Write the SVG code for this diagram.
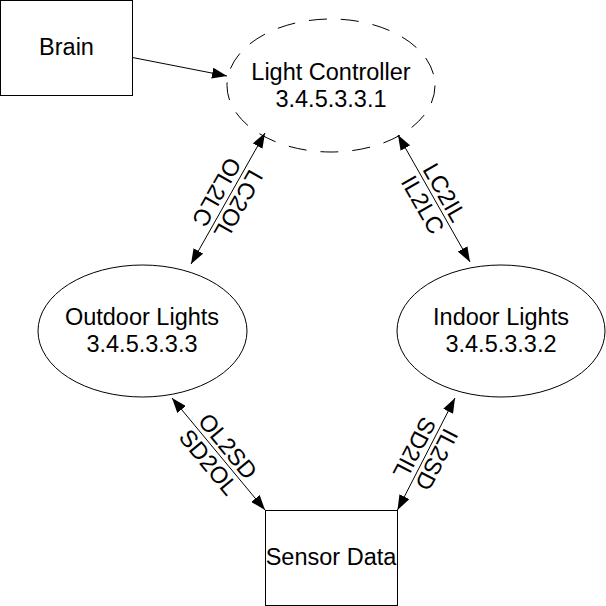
<svg xmlns="http://www.w3.org/2000/svg" width="606" height="606" viewBox="0 0 606 606">
<style>
.n{fill:#fff;stroke:#000;stroke-width:1}
.d{stroke-dasharray:18 14}
text{font-family:"Liberation Sans",Arial,sans-serif;font-size:23.5px;fill:#000;text-anchor:middle}
.c{stroke:#000;stroke-width:1;fill:none;marker-end:url(#arr)}
.b{marker-start:url(#arr)}
</style>
<defs>
<marker id="arr" viewBox="0 0 15 11" refX="15" refY="5.5" markerWidth="15" markerHeight="11" markerUnits="userSpaceOnUse" orient="auto-start-reverse">
<path d="M0,0 L15,5.5 L0,11 z" fill="#000"/>
</marker>
</defs>
<rect width="606" height="606" fill="#fff"/>
<g id="brain">
<rect class="n" x="0.5" y="0.5" width="132" height="95"/>
<text x="66.5" y="55">Brain</text>
</g>
<g id="light-controller">
<ellipse class="n d" cx="331" cy="85.5" rx="104" ry="66.5"/>
<text x="331" y="80">Light Controller</text>
<text x="331" y="107">3.4.5.3.3.1</text>
</g>
<g id="outdoor-lights">
<ellipse class="n" cx="142.5" cy="331" rx="104.5" ry="66"/>
<text x="142" y="325">Outdoor Lights</text>
<text x="142" y="352">3.4.5.3.3.3</text>
</g>
<g id="indoor-lights">
<ellipse class="n" cx="501" cy="331" rx="104" ry="66"/>
<text x="501" y="325">Indoor Lights</text>
<text x="501" y="352">3.4.5.3.3.2</text>
</g>
<g id="sensor-data">
<rect class="n" x="265.5" y="510.5" width="132" height="95"/>
<text x="331" y="565">Sensor Data</text>
</g>
<g id="connectors">
<path class="c" d="M132.5,57.5 L227,76"/>
<path class="c b" d="M265,133 L191,264"/>
<path class="c b" d="M398,135 L470,262"/>
<path class="c b" d="M172,398 L265,510"/>
<path class="c b" d="M455,398 L397.5,510"/>
<g transform="translate(228,198.5) rotate(119.5)"><text y="-4">LC2OL</text><text y="21">OL2LC</text></g>
<g transform="translate(434,198.5) rotate(60.4)"><text y="-4">LC2IL</text><text y="21">IL2LC</text></g>
<g transform="translate(218.5,454) rotate(50.3)"><text y="-4">OL2SD</text><text y="21">SD2OL</text></g>
<g transform="translate(426,454) rotate(117.4)"><text y="-4">IL2SD</text><text y="21">SD2IL</text></g>
</g>
</svg>
